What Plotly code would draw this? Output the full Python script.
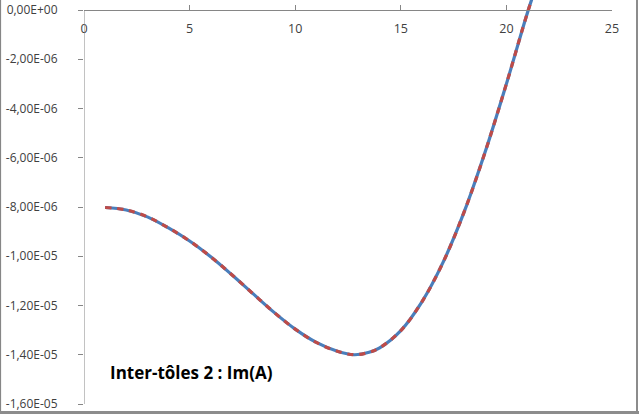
import plotly.graph_objects as go

# Data (x, Im(A))
x_vals = [1, 2, 3, 4, 5, 6, 7, 8, 9, 10, 11, 12, 12.8, 13.5, 14, 15, 16, 17, 18, 19, 20, 21, 21.5]
y_vals = [-8.02e-6, -8.12e-6, -8.40e-6, -8.85e-6, -9.38e-6, -10.02e-6, -10.75e-6, -11.52e-6,
          -12.28e-6, -12.96e-6, -13.50e-6, -13.86e-6, -14.0e-6, -13.90e-6, -13.72e-6, -13.02e-6,
          -11.85e-6, -10.25e-6, -8.20e-6, -5.75e-6, -3.00e-6, -0.10e-6, 1.2e-6]

x_ticks = [0, 5, 10, 15, 20, 25]
y_ticks = [0, -2e-6, -4e-6, -6e-6, -8e-6, -1e-5, -1.2e-5, -1.4e-5, -1.6e-5]
y_ticktext = ["0,00E+00", "-2,00E-06", "-4,00E-06", "-6,00E-06", "-8,00E-06",
              "-1,00E-05", "-1,20E-05", "-1,40E-05", "-1,60E-05"]
label = "Inter-tôles 2 : Im(A)"

y_top = 0.406e-6
y_bot = -1.6e-5

fig = go.Figure()
fig.add_trace(go.Scatter(x=x_vals, y=y_vals, mode="lines", line=dict(color="#4A7EBB", width=3.2, shape="spline"),
                         showlegend=False, hoverinfo="skip"))
fig.add_trace(go.Scatter(x=x_vals, y=y_vals, mode="lines",
                         line=dict(color="#BE4B48", width=3.2, dash="6px,6px", shape="spline"),
                         showlegend=False, hoverinfo="skip"))

pos = (0 - y_bot) / (y_top - y_bot)

fig.update_layout(
    width=640, height=416,
    margin=dict(l=84, r=28, t=0, b=12),
    paper_bgcolor="white", plot_bgcolor="white",
    font=dict(family="Open Sans, Liberation Sans, sans-serif", size=12, color="#404040"),
    xaxis=dict(range=[0, 25], tickvals=x_ticks, ticktext=[str(v) for v in x_ticks],
               anchor="free", position=pos, side="bottom", automargin=False,
               showline=True, linecolor="#868686", linewidth=1,
               ticks="inside", ticklen=5, tickcolor="#868686", ticklabelstandoff=7,
               showgrid=False, zeroline=False, tickfont=dict(size=12.5)),
    yaxis=dict(range=[y_bot, y_top], tickvals=y_ticks, ticktext=y_ticktext, automargin=False,
               showline=False, ticks="outside", ticklen=5, tickcolor="#868686",
               showgrid=False, zeroline=False, ticklabelstandoff=18, tickfont=dict(size=12)),
    annotations=[dict(x=0.045, y=0.077, xref="paper", yref="paper", text="<b>" + label + "</b>",
                      showarrow=False, xanchor="left", yanchor="middle",
                      font=dict(size=17, color="black", family="Open Sans, sans-serif"))],
    shapes=[
        dict(type="line", xref="x", yref="y", x0=0, x1=0, y0=y_bot, y1=0,
             line=dict(color="#868686", width=1)),
        dict(type="line", xref="paper", yref="paper", x0=-83.5/528, x1=-83.5/528, y0=-8/404, y1=1,
             line=dict(color="#868686", width=1.2)),
        dict(type="line", xref="paper", yref="paper", x0=-84/528, x1=(528+27)/528, y0=-8.5/404, y1=-8.5/404,
             line=dict(color="#8c8c8c", width=3)),
        dict(type="line", xref="paper", yref="paper", x0=(528+25)/528, x1=(528+25)/528, y0=-8.5/404, y1=1,
             line=dict(color="#8c8c8c", width=2)),
    ],
)

fig.write_html("out.html", config={"displayModeBar": False},
               post_script="document.body.style.margin='0';document.body.style.overflow='hidden';")
